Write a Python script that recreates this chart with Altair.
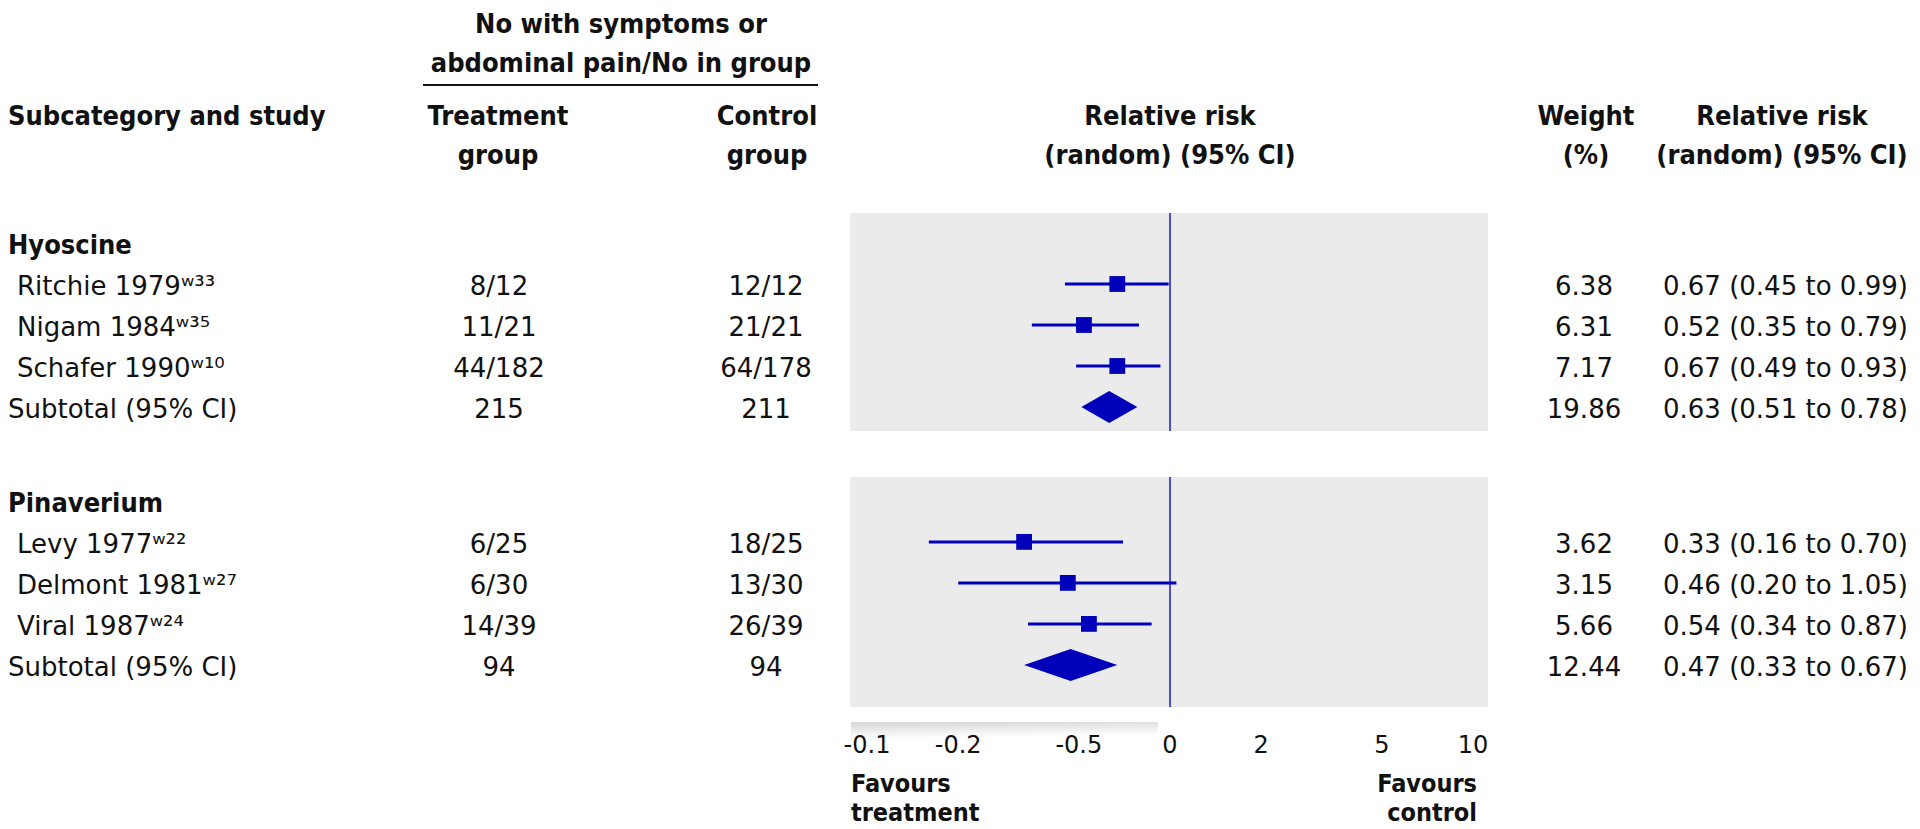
import altair as alt
import pandas as pd

# ---------------- data ----------------
groups = ["Hyoscine", "Pinaverium"]
studies = ["Ritchie 1979ʷ³³", "Nigam 1984ʷ³⁵", "Schafer 1990ʷ¹⁰",
           "Levy 1977ʷ²²", "Delmont 1981ʷ²⁷", "Viral 1987ʷ²⁴"]
study_group = [0, 0, 0, 1, 1, 1]
t_events = [8, 11, 44, 6, 6, 14]
t_total = [12, 21, 182, 25, 30, 39]
c_events = [12, 21, 64, 18, 13, 26]
c_total = [12, 21, 178, 25, 30, 39]
weight = [6.38, 6.31, 7.17, 3.62, 3.15, 5.66]
rr = [0.67, 0.52, 0.67, 0.33, 0.46, 0.54]
rr_lo = [0.45, 0.35, 0.49, 0.16, 0.20, 0.34]
rr_hi = [0.99, 0.79, 0.93, 0.70, 1.05, 0.87]
sub_weight = [19.86, 12.44]
sub_rr = [0.63, 0.47]
sub_lo = [0.51, 0.33]
sub_hi = [0.78, 0.67]
tick_values = [0.1, 0.2, 0.5, 1, 2, 5, 10]
tick_labels = ["-0.1", "-0.2", "-0.5", "0", "2", "5", "10"]

# ---------------- layout ----------------
W, H = 1904, 821
PITCH = 41.0
ROW0 = 235.0
GROUP_START = [0.0, 6.29]
PANEL_PAD = [(0.73, 0.585), (0.585, 1.025)]
PANEL_X = (0.088, 11.2)
LOG_PX = 303.0
X_ONE = 1162.0
DIAMOND_HALF = 0.39

BLUE = "#0000bb"
LINE_BLUE = "#1a1acc"
PANEL_GREY = "#ebebeb"
INK = "#111111"
REG = "DejaVu Sans"
BOLD = "DejaVu Sans Condensed, DejaVu Sans"

xscale = alt.Scale(type="log", nice=False,
                   domain=[10 ** (-X_ONE / LOG_PX), 10 ** ((W - X_ONE) / LOG_PX)])
yscale = alt.Scale(domain=[-ROW0 / PITCH, (H - ROW0) / PITCH],
                   reverse=True, nice=False, zero=False)

def fmt_rr(e, l, h):
    return f"{e:.2f} ({l:.2f} to {h:.2f})"

rows = []
panels = []
diamonds = []
for g, gname in enumerate(groups):
    s0 = GROUP_START[g]
    rows.append(dict(kind="header", label=gname, slot=s0))
    idx = [i for i, sg in enumerate(study_group) if sg == g]
    for k, i in enumerate(idx):
        rows.append(dict(kind="study", label=studies[i], slot=s0 + 1 + k,
                         tcol=f"{t_events[i]}/{t_total[i]}",
                         ccol=f"{c_events[i]}/{c_total[i]}",
                         wtxt=f"{weight[i]:.2f}",
                         rrtxt=fmt_rr(rr[i], rr_lo[i], rr_hi[i]),
                         est=rr[i], lo=rr_lo[i], hi=rr_hi[i]))
    ssl = s0 + 1 + len(idx)
    rows.append(dict(kind="subtotal", label="Subtotal (95% CI)", slot=ssl,
                     tcol=str(sum(t_total[i] for i in idx)),
                     ccol=str(sum(c_total[i] for i in idx)),
                     wtxt=f"{sub_weight[g]:.2f}",
                     rrtxt=fmt_rr(sub_rr[g], sub_lo[g], sub_hi[g]),
                     est=sub_rr[g], lo=sub_lo[g], hi=sub_hi[g]))
    panels.append(dict(grp=gname, top=s0 - PANEL_PAD[g][0], bot=ssl + PANEL_PAD[g][1],
                       x1=PANEL_X[0], x2=PANEL_X[1], one=1.0))
    for xv, y1, y2 in [(sub_lo[g], ssl, ssl),
                       (sub_rr[g], ssl - DIAMOND_HALF, ssl + DIAMOND_HALF),
                       (sub_hi[g], ssl, ssl)]:
        diamonds.append(dict(grp=gname, x=xv, y1=y1, y2=y2))

rows_df = pd.DataFrame(rows)
panel_df = pd.DataFrame(panels)
diam_df = pd.DataFrame(diamonds)
tick_df = pd.DataFrame({"value": tick_values, "label": tick_labels})
one = pd.DataFrame({"k": [0]})

# ---------------- forest part ----------------
panel = alt.Chart(panel_df).mark_rect(color=PANEL_GREY).encode(
    x=alt.X("x1:Q", scale=xscale, axis=None), x2="x2:Q",
    y=alt.Y("top:Q", scale=yscale, axis=None), y2="bot:Q")

vline = alt.Chart(panel_df).mark_rule(color=LINE_BLUE, strokeWidth=1.5).encode(
    x=alt.X("one:Q", scale=xscale, axis=None),
    y=alt.Y("top:Q", scale=yscale, axis=None), y2="bot:Q")

studies_only = alt.Chart(rows_df).transform_filter(alt.datum.kind == "study")

ci = studies_only.mark_rule(color=BLUE, strokeWidth=3).encode(
    x=alt.X("lo:Q", scale=xscale, axis=None), x2="hi:Q",
    y=alt.Y("slot:Q", scale=yscale, axis=None))

sq = studies_only.mark_square(color=BLUE, size=250, opacity=1, filled=True).encode(
    x=alt.X("est:Q", scale=xscale, axis=None),
    y=alt.Y("slot:Q", scale=yscale, axis=None))

diam = alt.Chart(diam_df).mark_area(color=BLUE, orient="vertical", opacity=1).encode(
    x=alt.X("x:Q", scale=xscale, axis=None),
    y=alt.Y("y1:Q", scale=yscale, axis=None, stack=None), y2="y2:Q",
    detail="grp:N")

band = alt.Chart(one).mark_rect(
    color=alt.LinearGradient(gradient="linear", x1=0, y1=0, x2=0.25, y2=1,
                             stops=[alt.GradientStop(color="#d6d6d6", offset=0),
                                    alt.GradientStop(color="#ffffff", offset=1)])
).encode(x=alt.value(843), x2=alt.value(1150), y=alt.value(714), y2=alt.value(730))

ticks = alt.Chart(tick_df).mark_text(font=REG, fontSize=24, baseline="alphabetic",
                                      align="center", color=INK).encode(
    x=alt.X("value:Q", scale=xscale, axis=None), y=alt.value(745), text="label:N")

# ---------------- table text ----------------
def col(kind_filter, field, x, align="center", bold=False, size=26):
    base = alt.Chart(rows_df)
    if kind_filter is not None:
        base = base.transform_filter(kind_filter)
    return base.mark_text(font=BOLD if bold else REG, fontSize=size,
                          fontWeight="bold" if bold else "normal",
                          align=align, baseline="alphabetic", dy=11, color=INK).encode(
        x=alt.value(x), y=alt.Y("slot:Q", scale=yscale, axis=None), text=f"{field}:N")

is_head = alt.datum.kind == "header"
is_study = alt.datum.kind == "study"
is_sub = alt.datum.kind == "subtotal"
not_head = alt.datum.kind != "header"

table = [
    col(is_head, "label", 0, align="left", bold=True, size=27),
    col(is_study, "label", 9, align="left"),
    col(is_sub, "label", 0, align="left"),
    col(not_head, "tcol", 491),
    col(not_head, "ccol", 758),
    col(not_head, "wtxt", 1576),
    col(not_head, "rrtxt", 1655, align="left"),
]

def label(text, x, y, align="center", size=27, lh=38.5, bold=True):
    return alt.Chart(one).mark_text(
        text=text, align=align, baseline="alphabetic", fontSize=size,
        font=BOLD if bold else REG, fontWeight="bold" if bold else "normal",
        lineBreak="\n", lineHeight=lh, color=INK).encode(x=alt.value(x), y=alt.value(y))

headers = [
    label("No with symptoms or\nabdominal pain/No in group", 613, 25),
    label("Subcategory and study", 0, 117, align="left"),
    label("Treatment\ngroup", 490, 117),
    label("Control\ngroup", 759, 117),
    label("Relative risk\n(random) (95% CI)", 1162, 117),
    label("Weight\n(%)", 1578, 117),
    label("Relative risk\n(random) (95% CI)", 1774, 117),
    label("Favours\ntreatment", 843, 784, align="left", size=25, lh=29),
    label("Favours\ncontrol", 1469, 784, align="right", size=25, lh=29),
]

underline = alt.Chart(one).mark_rule(color=INK, strokeWidth=2).encode(
    x=alt.value(415), x2=alt.value(810), y=alt.value(77))

chart = alt.layer(panel, vline, ci, sq, diam, band, ticks, *table, *headers, underline).properties(
    width=W, height=H, padding=0, autosize=alt.AutoSizeParams(type="none")
).configure_view(stroke=None)

chart.save("out.html", embed_options={"renderer": "svg", "actions": False})
